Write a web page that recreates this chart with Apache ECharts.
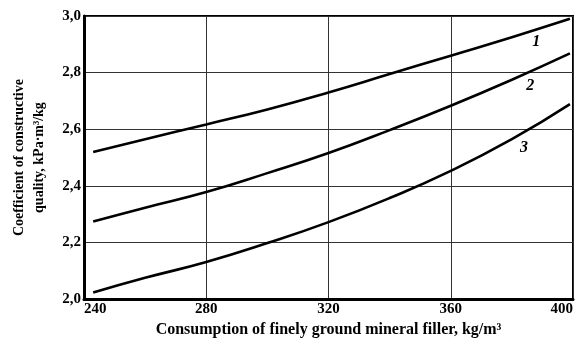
<!DOCTYPE html>
<html>
<head>
<meta charset="utf-8">
<script src="https://cdn.jsdelivr.net/npm/echarts@6/dist/echarts.min.js"></script>
<style>
html, body { margin: 0; padding: 0; background: #fff; }
#chart { width: 576px; height: 343px; }
</style>
</head>
<body>
<div id="chart"></div>
<script>
var dom = document.getElementById("chart");
var myChart = echarts.init(dom);

// filler consumption, kg/m3
var xValues = [243, 260, 280, 300, 320, 340, 360, 380, 399];
// coefficient of constructive quality for curves 1, 2, 3
var curve1 = [2.52, 2.565, 2.617, 2.67, 2.73, 2.795, 2.86, 2.925, 2.99];
var curve2 = [2.274, 2.323, 2.378, 2.445, 2.516, 2.597, 2.683, 2.775, 2.868];
var curve3 = [2.023, 2.075, 2.131, 2.198, 2.272, 2.357, 2.453, 2.565, 2.689];
var curveNames = ['1', '2', '3'];
// where the curve numbers sit (data units)
var labelX = [388, 386, 384];
var labelY = [2.91, 2.755, 2.535];

var fontFam = '"Liberation Serif", "DejaVu Serif", serif';

function pairs(ys) {
	return xValues.map(function (x, i) { return [x, ys[i]]; });
}

function makeSeries(ys, idx) {
	return {
		name: curveNames[idx],
		type: 'line',
		smooth: true,
		symbol: 'none',
		lineStyle: { color: '#000', width: 2.6 },
		data: pairs(ys),
		markPoint: {
			symbol: 'circle',
			symbolSize: 0,
			label: {
				show: true,
				formatter: curveNames[idx],
				color: '#000',
				fontFamily: fontFam,
				fontStyle: 'italic',
				fontWeight: 'bold',
				fontSize: 16
			},
			data: [{ coord: [labelX[idx], labelY[idx]] }]
		}
	};
}

var option = {
	animation: false,
	grid: {
		left: 84,
		right: 3,
		top: 16,
		bottom: 43,
		show: true,
		borderColor: '#000',
		borderWidth: 2
	},
	xAxis: {
		type: 'value',
		min: 240,
		max: 400,
		interval: 40,
		name: 'Consumption of finely ground mineral filler, kg/m³',
		nameLocation: 'middle',
		nameGap: 20,
		nameTextStyle: { color: '#000', fontFamily: fontFam, fontWeight: 'bold', fontSize: 16 },
		axisLine: { show: true, lineStyle: { color: '#000', width: 3 } },
		axisTick: { show: false },
		axisLabel: {
			color: '#000', fontFamily: fontFam, fontWeight: 'bold', fontSize: 15, margin: 3,
			alignMinLabel: 'left', alignMaxLabel: 'right'
		},
		splitLine: { show: true, lineStyle: { color: '#333', width: 1 } }
	},
	yAxis: {
		type: 'value',
		min: 2.0,
		max: 3.0,
		interval: 0.2,
		name: 'Coefficient of constructive\nquality, kPa·m³/kg',
		nameLocation: 'middle',
		nameRotate: 90,
		nameGap: 35,
		nameTextStyle: { color: '#000', fontFamily: fontFam, fontWeight: 'bold', fontSize: 14, lineHeight: 20 },
		axisLine: { show: true, lineStyle: { color: '#000', width: 3 } },
		axisTick: { show: false },
		axisLabel: {
			color: '#000', fontFamily: fontFam, fontWeight: 'bold', fontSize: 15, margin: 3,
			formatter: function (v) { return v.toFixed(1).replace('.', ','); }
		},
		splitLine: { show: true, lineStyle: { color: '#333', width: 1 } }
	},
	series: [makeSeries(curve1, 0), makeSeries(curve2, 1), makeSeries(curve3, 2)]
};

myChart.setOption(option);
</script>
</body>
</html>
